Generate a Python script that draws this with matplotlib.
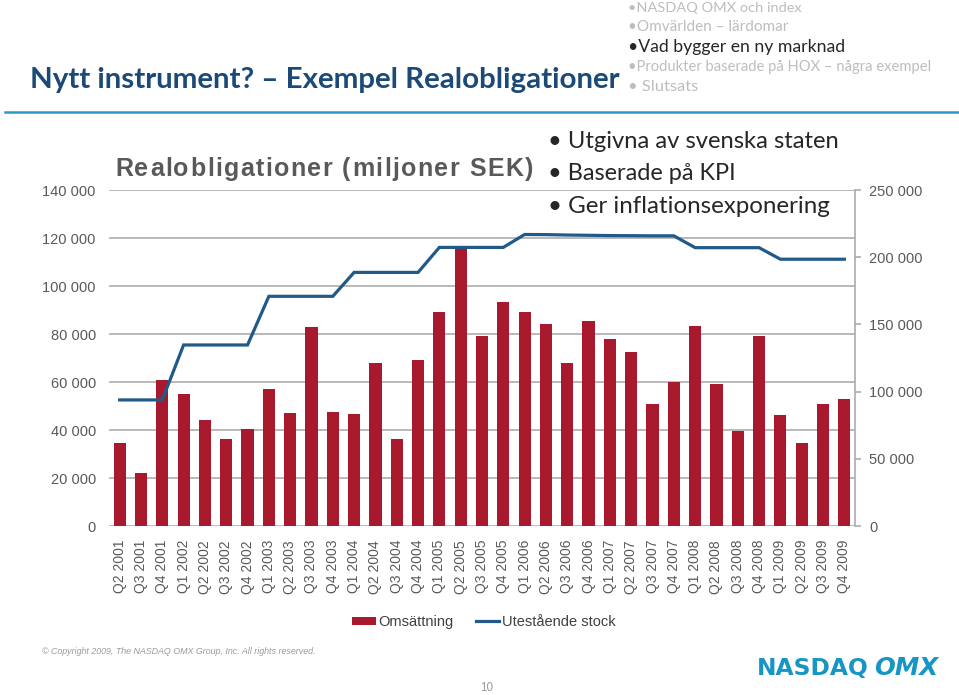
import matplotlib
matplotlib.use("Agg")
import matplotlib.pyplot as plt
from matplotlib.ticker import FuncFormatter, MultipleLocator

# ---------------- data ----------------
quarters = ["Q2 2001", "Q3 2001", "Q4 2001",
            "Q1 2002", "Q2 2002", "Q3 2002", "Q4 2002",
            "Q1 2003", "Q2 2003", "Q3 2003", "Q4 2003",
            "Q1 2004", "Q2 2004", "Q3 2004", "Q4 2004",
            "Q1 2005", "Q2 2005", "Q3 2005", "Q4 2005",
            "Q1 2006", "Q2 2006", "Q3 2006", "Q4 2006",
            "Q1 2007", "Q2 2007", "Q3 2007", "Q4 2007",
            "Q1 2008", "Q2 2008", "Q3 2008", "Q4 2008",
            "Q1 2009", "Q2 2009", "Q3 2009", "Q4 2009"]
omsattning = [34400, 22100, 60800, 55100, 44300, 36300, 40600, 56900, 47200,
              82800, 47500, 46700, 68100, 36300, 69300, 89200, 116800, 79200,
              93200, 89200, 84200, 67800, 85600, 77900, 72400, 50700, 59900,
              83500, 59000, 39600, 79000, 46100, 34700, 51000, 52900]
utestaende = [93800, 93800, 93800, 134700, 134700, 134700, 134700,
              170900, 170900, 170900, 170900, 188700, 188700, 188700, 188700,
              207300, 207300, 207300, 207300, 216900, 216800, 216500, 216300,
              216100, 216000, 215900, 215900, 207100, 207100, 207100, 207100,
              198500, 198500, 198500, 198500]
left_ticks_step = 20000
right_ticks_step = 50000

W, H = 959, 695
fig = plt.figure(figsize=(W / 100, H / 100), dpi=100)
fig.patch.set_facecolor("white")

BAR = "#A8192E"
LINE = "#215A88"
GRID = "#A6A6A6"
TXT = "#595959"

# ---------------- axes ----------------
ax = fig.add_axes([109 / W, 1 - 526 / H, 746 / W, 336 / H])
ax2 = ax.twinx()
x = list(range(len(quarters)))
bars = ax.bar(x, omsattning, width=0.57, color=BAR, label="Omsättning", zorder=3)
ln, = ax2.plot(x, utestaende, color=LINE, lw=2.3, label="Utestående stock",
               solid_joinstyle="miter", zorder=4)

ax.set_xlim(-0.5, len(quarters) - 0.5)
ax.set_ylim(0, 140000)
ax2.set_ylim(0, 250000)
ax.yaxis.set_major_locator(MultipleLocator(left_ticks_step))
ax2.yaxis.set_major_locator(MultipleLocator(right_ticks_step))
fmt = FuncFormatter(lambda v, p: f"{int(v):,}".replace(",", " "))
ax.yaxis.set_major_formatter(fmt)
ax2.yaxis.set_major_formatter(fmt)

ax.grid(axis="y", color=GRID, lw=1.1, zorder=0)
ax.set_axisbelow(True)
for s in ["left", "top", "bottom"]:
    ax.spines[s].set_visible(False)
    ax2.spines[s].set_visible(False)
ax.spines["right"].set_visible(False)
ax2.spines["right"].set_color(GRID)
ax2.spines["right"].set_linewidth(1.1)

ax.set_xticks(x)
ax.set_xticklabels(quarters, rotation=90, fontsize=10, color=TXT,
                   family="Liberation Sans")
ax.tick_params(axis="x", length=0, pad=10)
ax.tick_params(axis="y", length=0, pad=9.5, labelsize=10.5, labelcolor=TXT)
ax2.tick_params(axis="y", length=4, width=1.1, color=GRID, pad=6,
                labelsize=10.5, labelcolor=TXT)
for t in ax.get_yticklabels() + ax2.get_yticklabels():
    t.set_family("Liberation Sans")

# legend
leg = fig.legend(handles=[bars, ln], labels=["Omsättning", "Utestående stock"],
                 loc="center", bbox_to_anchor=(484 / W, 1 - 622 / H), ncol=2,
                 frameon=False, handlelength=1.6, handleheight=0.5, handletextpad=0.2,
                 columnspacing=1.5, prop={"family": "Liberation Sans", "size": 10.5})
for t in leg.get_texts():
    t.set_color("#404040")

# ---------------- texts ----------------
renderer = fig.canvas.get_renderer()


def fit(xp, yp, s, width_px, ha="left", **kw):
    t = fig.text(xp / W, 1 - yp / H, s, ha=ha, va="center", **kw)
    bb = t.get_window_extent(renderer)
    t.set_fontsize(t.get_fontsize() * width_px / bb.width)
    return t


def width_of(s, **kw):
    t = fig.text(0, 0, s, **kw)
    w = t.get_window_extent(renderer).width
    t.remove()
    return w


def spaced(xp, yp, s, width_px, **kw):
    sent = "|"
    ws = width_of(sent, **kw)
    natural = width_of(s, **kw)
    gap = (width_px - natural) / (len(s) - 1)
    for i, ch in enumerate(s):
        if ch == " ":
            continue
        off = (width_of(s[:i] + sent, **kw) - ws) if i else 0.0
        fig.text((xp + off + i * gap) / W, 1 - yp / H, ch, ha="left",
                 va="baseline", **kw)


fit(30, 80, "Nytt instrument? – Exempel Realobligationer", 590,
    family="Lato", weight="bold", color="#1B4A78", fontsize=28)

gray = "#BDBDBD"
fit(628, 8, "•NASDAQ OMX och index", 173, family="Lato", color=gray, fontsize=11)
fit(628, 27, "•Omvärlden – lärdomar", 160, family="Lato", color=gray, fontsize=11)
fit(628, 47, "•Vad bygger en ny marknad", 216, family="Lato", color="#262626", fontsize=12)
fit(628, 67, "•Produkter baserade på HOX – några exempel", 303, family="Lato",
    color=gray, fontsize=11)
fit(628, 87, "• Slutsats", 70, family="Lato", color=gray, fontsize=11)

fig.add_artist(plt.Line2D([5 / W, 1], [1 - 111.5 / H] * 2, color="#2B9BC5", lw=1.8))

spaced(115, 176, "Realobligationer (miljoner SEK)", 418, family="Liberation Sans",
       weight="bold", color=TXT, fontsize=18)

fit(548, 141, "• Utgivna av svenska staten", 290, family="Lato", color="#262626", fontsize=18)
fit(548, 173, "• Baserade på KPI", 188, family="Lato", color="#262626", fontsize=18)
fit(548, 206, "• Ger inflationsexponering", 281, family="Lato", color="#262626", fontsize=18)

fit(42, 652, "© Copyright 2009, The NASDAQ OMX Group, Inc. All rights reserved.", 276,
    family="Liberation Sans", style="italic", color="#9A9A9A", fontsize=7)
fit(487, 688, "10", 13, ha="center", family="Liberation Sans", color="#9A9A9A", fontsize=9)

# logo
fit(757, 668, "NASDAQ", 112, family="DejaVu Sans", weight="heavy", color="#1795C4",
    fontsize=16)
fit(874, 668, "OMX", 64, family="DejaVu Sans", weight="heavy", style="italic",
    color="#1795C4", fontsize=16)

fig.savefig("out.png", dpi=100, facecolor="white")
